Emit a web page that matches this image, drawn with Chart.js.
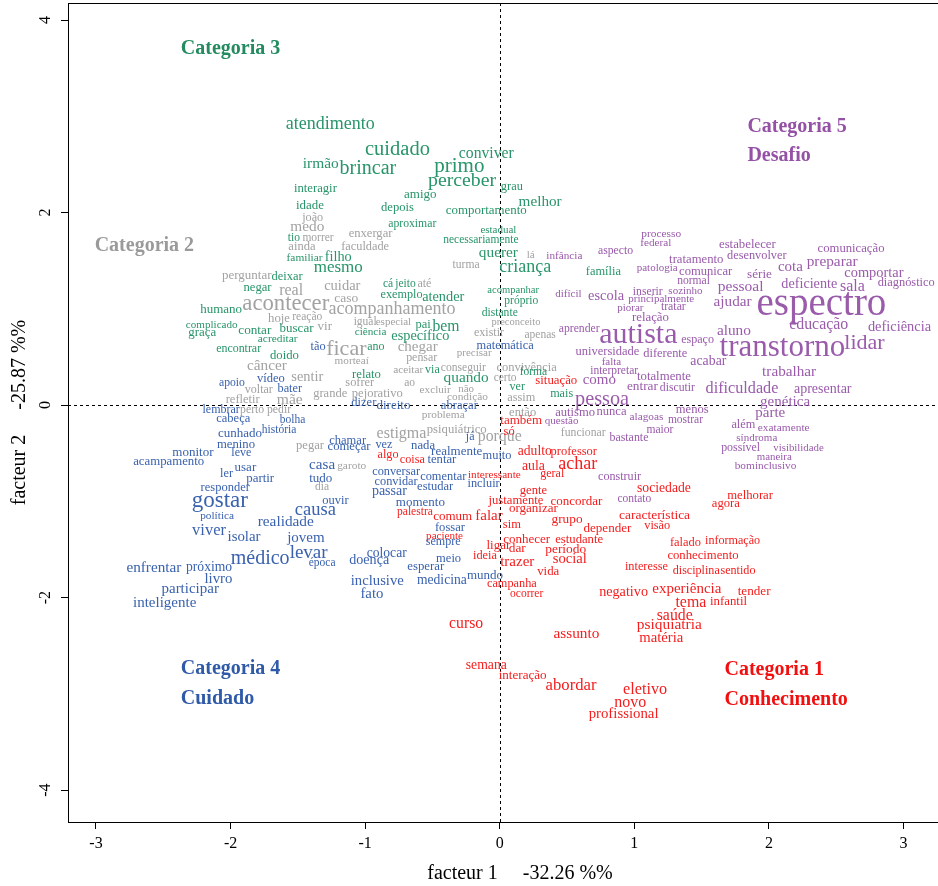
<!DOCTYPE html>
<html><head><meta charset="utf-8">
<script src="https://cdn.jsdelivr.net/npm/chart.js@4.4.1/dist/chart.umd.min.js"></script>
<style>html,body{margin:0;padding:0;overflow:hidden;background:#fff;width:938px;height:886px}canvas{display:block}</style>
</head><body>
<canvas id="c" width="975" height="886" style="width:975px;height:886px"></canvas>
<script>
// ---- Axis tick labels ----
const xTicks = [-3, -2, -1, 0, 1, 2, 3];
const yTicks = [-4, -2, 0, 2, 4];
const xTitle = "facteur 1     -32.26 %%";
const yTitle = "facteur 2     -25.87 %%";

// ---- Categoria 1 (Conhecimento) ----
const cat1Words = ["situação","também","só","adulto","professor","algo","coisa","achar","aula","geral","interessante","gente","justamente","concordar","palestra","organizar","comum","falar","sim","grupo","depender","característica","visão","sociedade","agora","melhorar","paciente","ligar","conhecer","estudante","dar","período","ideia","social","trazer","vida","campanha","ocorrer","falado","informação","conhecimento","interesse","disciplina","sentido","negativo","experiência","tender","tema","infantil","saúde","psiquiatria","matéria","curso","assunto","semana","interação","abordar","eletivo","novo","profissional"];
const cat1X = [0.42,0.16,0.07,0.26,0.55,-0.83,-0.65,0.58,0.25,0.39,-0.04,0.25,0.12,0.57,-0.63,0.25,-0.35,-0.08,0.09,0.50,0.80,1.15,1.17,1.22,1.68,1.86,-0.41,-0.01,0.20,0.59,0.13,0.49,-0.11,0.52,0.13,0.36,0.09,0.20,1.38,1.73,1.51,1.09,1.46,1.77,0.92,1.39,1.89,1.42,1.70,1.30,1.26,1.20,-0.25,0.57,-0.10,0.17,0.53,1.08,0.97,0.92];
const cat1Y = [0.25,-0.16,-0.28,-0.48,-0.48,-0.52,-0.57,-0.62,-0.64,-0.72,-0.73,-0.89,-0.99,-1.00,-1.11,-1.08,-1.16,-1.15,-1.24,-1.19,-1.28,-1.15,-1.25,-0.87,-1.02,-0.94,-1.36,-1.46,-1.40,-1.40,-1.49,-1.50,-1.57,-1.60,-1.63,-1.73,-1.86,-1.96,-1.43,-1.41,-1.56,-1.68,-1.72,-1.72,-1.95,-1.91,-1.94,-2.05,-2.04,-2.19,-2.28,-2.42,-2.27,-2.38,-2.70,-2.81,-2.92,-2.96,-3.09,-3.21];
const cat1Freq = [2.8,3,2.5,3.6,2.5,2.2,2.2,8,3.8,2,1.2,2.5,2.7,3,1.6,3,3,5,2.5,3.3,3.1,3.5,2.3,3.7,2.6,2.7,1.1,3,3,2.7,3.3,3.4,2.3,4.6,5,2.8,2.3,1.5,2.4,2.1,2.7,2.3,2.1,2.1,4.2,5,3.2,5.9,2.8,5.8,5.4,4.7,5.7,5.3,3.7,3.1,6.7,6.2,6,4.8];

// ---- Categoria 2 ----
const cat2Words = ["joão","medo","morrer","ainda","enxergar","faculdade","perguntar","real","cuidar","até","turma","lá","acontecer","caso","acompanhamento","hoje","reação","vir","igual","especial","preconceito","existir","apenas","ficar","chegar","câncer","morteaí","pensar","precisar","sentir","aceitar","conseguir","convivência","sofrer","ao","certo","voltar","grande","pejorativo","excluir","não","condição","assim","refletir","mãe","perto","pedir","problema","então","funcionar","estigma","psiquiátrico","porque","pegar","garoto","dia"];
const cat2X = [-1.39,-1.43,-1.35,-1.47,-0.96,-1.00,-1.88,-1.55,-1.17,-0.56,-0.25,0.23,-1.59,-1.14,-0.80,-1.64,-1.43,-1.30,-1.00,-0.79,0.12,-0.08,0.30,-1.14,-0.61,-1.73,-1.10,-0.58,-0.19,-1.43,-0.68,-0.27,0.20,-1.04,-0.67,0.04,-1.79,-1.26,-0.91,-0.48,-0.25,-0.24,0.16,-1.91,-1.56,-1.84,-1.64,-0.42,0.17,0.62,-0.73,-0.32,0.00,-1.41,-1.10,-1.32];
const cat2Y = [1.95,1.85,1.74,1.64,1.78,1.64,1.34,1.19,1.24,1.26,1.46,1.56,1.05,1.11,0.99,0.90,0.92,0.81,0.86,0.86,0.86,0.75,0.73,0.58,0.60,0.41,0.46,0.49,0.54,0.29,0.36,0.39,0.39,0.23,0.23,0.28,0.16,0.12,0.12,0.16,0.17,0.08,0.08,0.06,0.05,-0.05,-0.05,-0.10,-0.08,-0.29,-0.30,-0.26,-0.33,-0.42,-0.63,-0.85];
const cat2Freq = [2.2,5.3,1.5,2.5,2.6,2.3,3,6,4.5,2,1.6,1,12.7,3.5,8,2.8,1.5,3,1.5,1,0.5,2,1.5,12,5,5.3,1.2,1.9,1,4.4,1.3,1.6,2.5,2.4,1.5,1.5,2,2.5,2.6,1.2,1,1.4,2.3,2.5,5.6,1.7,1.7,1.4,2.5,1.7,6,2.7,5.8,2.6,1.4,1.5];

// ---- Categoria 3 ----
const cat3Words = ["atendimento","cuidado","irmão","brincar","conviver","primo","perceber","interagir","amigo","grau","depois","melhor","comportamento","idade","aproximar","estadual","necessariamente","tio","familiar","filho","mesmo","querer","criança","deixar","negar","humano","cá","jeito","exemplo","atender","acompanhar","próprio","distante","complicado","graça","contar","buscar","acreditar","pai","bem","ciência","específico","encontrar","ano","doido","relato","via","quando","ver","forma","mais","família"];
const cat3X = [-1.26,-0.76,-1.33,-0.98,-0.10,-0.30,-0.28,-1.37,-0.59,0.09,-0.76,0.30,-0.10,-1.41,-0.65,-0.01,-0.14,-1.53,-1.45,-1.20,-1.20,-0.01,0.19,-1.58,-1.80,-2.07,-0.83,-0.70,-0.73,-0.42,0.10,0.16,0.00,-2.14,-2.21,-1.82,-1.51,-1.65,-0.57,-0.40,-0.96,-0.59,-1.94,-0.92,-1.60,-0.99,-0.50,-0.25,0.13,0.25,0.46,0.77];
const cat3Y = [2.92,2.65,2.50,2.45,2.61,2.48,2.33,2.25,2.19,2.27,2.05,2.11,2.02,2.07,1.88,1.82,1.72,1.74,1.53,1.54,1.43,1.58,1.43,1.33,1.22,0.99,1.26,1.26,1.15,1.12,1.19,1.08,0.96,0.83,0.75,0.77,0.79,0.69,0.83,0.81,0.76,0.71,0.58,0.60,0.51,0.32,0.37,0.28,0.19,0.34,0.12,1.38];
const cat3Freq = [8,10.5,5.4,10,5.7,11,9.8,2.7,3,2.4,2.6,5.2,2.9,2.9,1.7,1,1.5,1.5,1.4,4.3,7,5.3,8,2.4,2.6,3,1.5,1.5,2.2,4.3,0.6,1.5,1.6,1.1,2.9,3.2,3,1.4,2.5,5.7,1.2,4.3,1.9,2,2.7,2.7,2,5.3,2,1.5,2.2,2.4];

// ---- Categoria 4 (Cuidado) ----
const cat4Words = ["tão","matemática","apoio","vídeo","bater","dizer","direito","abraçar","lembrar","cabeça","bolha","história","cunhado","menino","leve","já","chamar","começar","vez","nada","realmente","muito","tentar","monitor","acampamento","usar","casa","ler","partir","tudo","conversar","convidar","comentar","incluir","responder","passar","estudar","ouvir","gostar","momento","causa","política","realidade","fossar","viver","isolar","jovem","sempre","médico","levar","colocar","doença","meio","época","enfrentar","próximo","esperar","livro","inclusive","medicina","mundo","participar","fato","inteligente"];
const cat4X = [-1.35,0.04,-1.99,-1.70,-1.56,-1.01,-0.79,-0.30,-2.07,-1.98,-1.54,-1.64,-1.93,-1.96,-1.92,-0.22,-1.13,-1.12,-0.86,-0.57,-0.32,-0.02,-0.43,-2.28,-2.46,-1.89,-1.32,-2.03,-1.78,-1.33,-0.77,-0.77,-0.42,-0.12,-2.04,-0.82,-0.48,-1.22,-2.08,-0.59,-1.37,-2.10,-1.59,-0.37,-2.16,-1.90,-1.44,-0.42,-1.78,-1.42,-0.84,-0.97,-0.38,-1.32,-2.57,-2.16,-0.55,-2.09,-0.91,-0.43,-0.11,-2.30,-0.95,-2.49];
const cat4Y = [0.61,0.62,0.23,0.27,0.17,0.02,-0.01,-0.01,-0.05,-0.14,-0.16,-0.26,-0.30,-0.41,-0.50,-0.33,-0.37,-0.43,-0.41,-0.42,-0.48,-0.53,-0.57,-0.49,-0.59,-0.65,-0.62,-0.71,-0.76,-0.76,-0.69,-0.80,-0.74,-0.82,-0.86,-0.90,-0.85,-0.99,-1.00,-1.01,-1.09,-1.15,-1.22,-1.27,-1.31,-1.37,-1.38,-1.42,-1.60,-1.54,-1.54,-1.61,-1.60,-1.64,-1.69,-1.69,-1.68,-1.81,-1.83,-1.82,-1.77,-1.91,-1.96,-2.06];
const cat4Freq = [2.3,2.4,1.7,2.5,2.3,2.5,3,2.6,2,2.5,1.5,1.5,3,2.7,2,2,2.5,2.7,2.3,2.7,3,2.4,2.7,3,2.8,3,5.1,2.3,2.9,3,2.3,2.3,2.4,2.3,2.5,4,2.5,2.5,13,3,8.5,1.3,5.3,2.6,6.5,4.9,5,2.1,10,9,3.6,4.1,2.5,1.5,5.2,3.6,2.8,4.8,4.7,3.6,3,5,4.8,5];

// ---- Categoria 5 (Desafio) ----
const cat5Words = ["processo","federal","aspecto","infância","estabelecer","desenvolver","comunicação","tratamento","patologia","comunicar","normal","série","cota","preparar","comportar","diagnóstico","pessoal","deficiente","sala","inserir","sozinho","escola","difícil","principalmente","ajudar","espectro","piorar","tratar","relação","aprender","autista","aluno","educação","deficiência","espaço","transtorno","lidar","universidade","diferente","acabar","falta","trabalhar","interpretar","totalmente","como","dificuldade","apresentar","entrar","discutir","pessoa","genética","parte","autismo","nunca","menos","alagoas","mostrar","questão","além","exatamente","maior","síndroma","bastante","possível","visibilidade","maneira","bom","inclusivo","construir","contato"];
const cat5X = [1.20,1.16,0.86,0.48,1.84,1.91,2.61,1.46,1.17,1.53,1.44,1.93,2.16,2.47,2.78,3.02,1.79,2.30,2.62,1.10,1.38,0.79,0.51,1.20,1.73,2.39,0.97,1.29,1.12,0.59,1.03,1.74,2.37,2.97,1.47,2.10,2.71,0.80,1.23,1.55,0.83,2.15,0.85,1.22,0.74,1.80,2.40,1.06,1.32,0.76,2.12,2.01,0.56,0.83,1.43,1.09,1.38,0.46,1.81,2.11,1.19,1.91,0.96,1.79,2.22,2.04,1.82,2.05,0.89,1.00];
const cat5Y = [1.78,1.68,1.60,1.55,1.67,1.55,1.62,1.51,1.42,1.39,1.29,1.36,1.43,1.49,1.37,1.27,1.23,1.25,1.23,1.18,1.18,1.13,1.15,1.10,1.07,1.04,1.01,1.02,0.91,0.79,0.73,0.77,0.83,0.81,0.68,0.59,0.64,0.55,0.53,0.45,0.45,0.34,0.35,0.29,0.26,0.17,0.16,0.19,0.18,0.06,0.03,-0.08,-0.08,-0.07,-0.05,-0.12,-0.16,-0.17,-0.21,-0.24,-0.26,-0.34,-0.34,-0.45,-0.45,-0.54,-0.63,-0.63,-0.75,-0.98];
const cat5Freq = [1.4,1.2,1.7,1.2,2.8,2.3,2.7,2.7,1,2.6,1.6,3.2,5,5.3,4.4,2.4,5.5,4.2,6,1.7,1,4.4,1,1,5.2,29,1,1.8,2.8,1.7,20,5.3,5.9,4.4,2.1,21,12,2.5,2.4,3.8,1,5.2,1.5,2.8,5,6.2,4,3.3,1.7,10.3,5,5,2.6,2.6,2.6,1.3,1.5,1,2.3,1.4,1.6,1,1.9,1.9,0.8,0.9,1.3,1.3,2.1,1.5];

// ---- Category titles ----
const catLabels = ["Categoria 3","Categoria 2","Categoria 5","Desafio","Categoria 4","Cuidado","Categoria 1","Conhecimento"];
const catLabelX = [-2.37,-3.01,1.84,1.84,-2.37,-2.37,1.67,1.67];
const catLabelY = [3.70,1.65,2.89,2.59,-2.74,-3.05,-2.75,-3.06];
const catLabelGroup = [3,2,5,5,4,4,1,1];

const FONT = "'Liberation Serif','Times New Roman',serif";
const COLORS = {1:'#f51d1d', 2:'#a2a2a2', 3:'#28956a', 4:'#3a62ae', 5:'#9a5bab'};
const LABEL_COLORS = {1:'#f20f0f', 2:'#9a9a9a', 3:'#238b5f', 4:'#2f5aa8', 5:'#9451a5'};

function wordDs(label, words, xs, ys, freq, color) {
  return { label, words, freq, textColor: color, kind: 'word',
    data: xs.map((x, i) => ({ x, y: ys[i] })), pointRadius: 0, pointHoverRadius: 0 };
}

const datasets = [
  wordDs('Categoria 2', cat2Words, cat2X, cat2Y, cat2Freq, COLORS[2]),
  wordDs('Categoria 3', cat3Words, cat3X, cat3Y, cat3Freq, COLORS[3]),
  wordDs('Categoria 4', cat4Words, cat4X, cat4Y, cat4Freq, COLORS[4]),
  wordDs('Categoria 5', cat5Words, cat5X, cat5Y, cat5Freq, COLORS[5]),
  wordDs('Categoria 1', cat1Words, cat1X, cat1Y, cat1Freq, COLORS[1]),
  { label: 'títulos', kind: 'title', words: catLabels, groups: catLabelGroup,
    data: catLabelX.map((x, i) => ({ x, y: catLabelY[i] })), pointRadius: 0, pointHoverRadius: 0 }
];

const wordPlugin = {
  id: 'wordPlugin',
  beforeDatasetsDraw(chart) {
    const { ctx, chartArea: a, scales: { x, y } } = chart;
    ctx.save();
    ctx.strokeStyle = '#000';
    ctx.lineWidth = 1;
    ctx.setLineDash([3, 3]);
    const x0 = Math.round(x.getPixelForValue(0)) + 0.5;
    const y0 = Math.round(y.getPixelForValue(0)) + 0.5;
    ctx.beginPath();
    ctx.moveTo(x0, a.top); ctx.lineTo(x0, a.bottom);
    ctx.moveTo(a.left, y0); ctx.lineTo(a.right, y0);
    ctx.stroke();
    ctx.restore();
  },
  afterDatasetsDraw(chart) {
    const ctx = chart.ctx;
    chart.data.datasets.forEach((ds, i) => {
      const meta = chart.getDatasetMeta(i);
      meta.data.forEach((pt, j) => {
        ctx.save();
        ctx.textBaseline = 'middle';
        if (ds.kind === 'title') {
          ctx.font = 'bold 20px ' + FONT;
          ctx.textAlign = 'left';
          ctx.fillStyle = LABEL_COLORS[ds.groups[j]];
        } else {
          ctx.font = (10 + ds.freq[j]).toFixed(1) + 'px ' + FONT;
          ctx.textAlign = 'center';
          ctx.fillStyle = ds.textColor;
        }
        ctx.fillText(ds.words[j], pt.x, pt.y);
        ctx.restore();
      });
    });
  },
  afterDraw(chart) {
    const { ctx, chartArea: a } = chart;
    ctx.save();
    ctx.strokeStyle = '#000';
    ctx.lineWidth = 1;
    ctx.strokeRect(Math.round(a.left) + 0.5, Math.round(a.top) + 0.5, Math.round(a.right - a.left), Math.round(a.bottom - a.top));
    ctx.restore();
  }
};

new Chart(document.getElementById('c'), {
  type: 'scatter',
  data: { datasets },
  options: {
    responsive: false,
    maintainAspectRatio: false,
    devicePixelRatio: 1,
    animation: false,
    events: [],
    layout: { padding: { top: 3, right: 3, left: 0, bottom: 0 } },
    plugins: { legend: { display: false }, tooltip: { enabled: false } },
    scales: {
      x: {
        type: 'linear', min: -3.208, max: 3.509,
        afterBuildTicks: s => { s.ticks = xTicks.map(v => ({ value: v })); },
        afterFit: s => { s.height = 64; s.paddingLeft = 0; s.paddingRight = 0; },
        grid: { drawOnChartArea: false, drawTicks: true, tickLength: 7, color: '#000', lineWidth: 1 },
        border: { display: false },
        ticks: { color: '#000', font: { family: FONT, size: 16 }, padding: 5, maxRotation: 0, minRotation: 0, callback: v => String(v) },
        title: { display: true, text: xTitle, color: '#000', font: { family: FONT, size: 20 }, padding: { top: 0, bottom: 0 } }
      },
      y: {
        type: 'linear', min: -4.332, max: 4.177,
        afterBuildTicks: s => { s.ticks = yTicks.map(v => ({ value: v })); },
        afterFit: s => { s.width = 68; s.paddingTop = 0; s.paddingBottom = 0; },
        grid: { drawOnChartArea: false, drawTicks: true, tickLength: 7, color: '#000', lineWidth: 1 },
        border: { display: false },
        ticks: { color: '#000', font: { family: FONT, size: 16 }, padding: 9, minRotation: 90, maxRotation: 90, crossAlign: 'center', callback: v => String(v) },
        title: { display: true, text: yTitle, color: '#000', font: { family: FONT, size: 20 }, padding: { top: 8, bottom: 0 } }
      }
    }
  },
  plugins: [wordPlugin]
});
</script>
</body></html>
